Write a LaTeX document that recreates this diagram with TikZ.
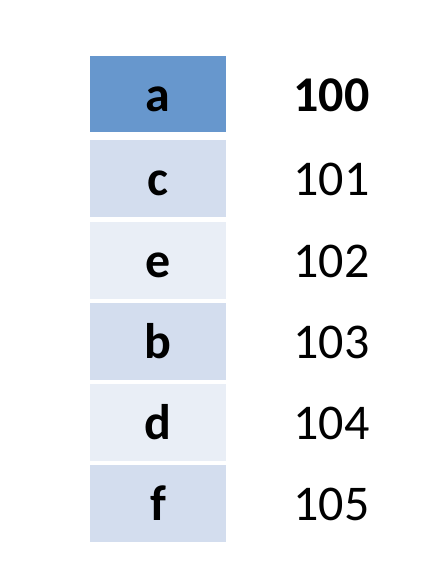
\documentclass[tikz,border=0pt]{standalone}
\usepackage{fontspec}
\setmainfont{Carlito}
\usepackage{xcolor}
\usetikzlibrary{positioning}
\definecolor{headblue}{HTML}{6797CD}
\definecolor{bandblue}{HTML}{D3DDEE}
\definecolor{paleblue}{HTML}{E9EEF6}

\begin{document}
\begin{tikzpicture}[x=1pt, y=1pt, node distance=3.8pt,
  cell/.style={rectangle, minimum width=136pt, minimum height=77pt, inner sep=0pt, font=\fontsize{50}{50}\selectfont\bfseries, text height=34pt, text depth=0pt},
  addr/.style={right=67pt of #1, inner sep=0pt, font=\fontsize{50}{50}\selectfont, text height=34pt, text depth=0pt}]
\useasboundingbox (0,0) rectangle (428,-568);
% Cells
\node[cell, fill=headblue, minimum height=76pt] (a) at (158,-94) {a};
\node[cell, fill=bandblue, below=8pt of a] (c) {c};
\node[cell, fill=paleblue, below=of c] (e) {e};
\node[cell, fill=bandblue, below=of e] (b) {b};
\node[cell, fill=paleblue, below=of b] (d) {d};
\node[cell, fill=bandblue, below=of d] (f) {f};

% Addresses
\node[addr=a, font=\fontsize{50}{50}\selectfont\bfseries] (na) {100};
\node[addr=c] (nc) {101};
\node[addr=e] (ne) {102};
\node[addr=b] (nb) {103};
\node[addr=d] (nd) {104};
\node[addr=f] (nf) {105};
\end{tikzpicture}
\end{document}
